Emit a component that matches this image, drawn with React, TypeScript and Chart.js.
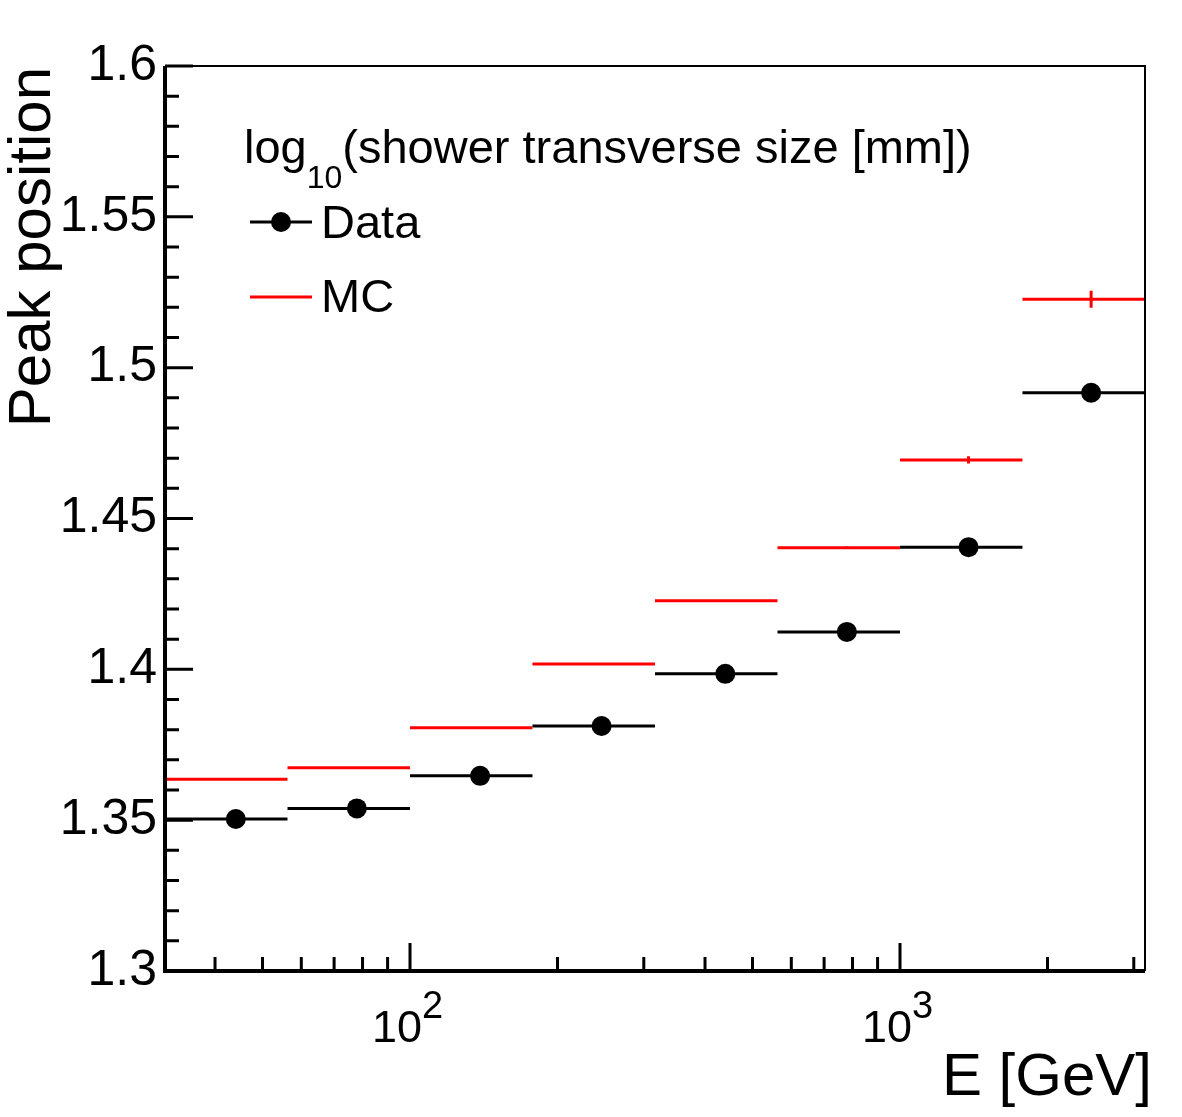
import { useEffect, useRef } from 'react';
import { Chart, registerables } from 'chart.js';

Chart.register(...registerables);

const FONT = '"Liberation Sans", Arial, Helvetica, sans-serif';

// Energy bins in GeV (quarter-decade wide)
const binLow = [31.62, 56.23, 100, 177.8, 316.2, 562.3, 1000, 1778];
const binHigh = [56.23, 100, 177.8, 316.2, 562.3, 1000, 1778, 3162.3];
// Mean energy of each bin, where the markers sit
const binEnergy = [44.1, 77.9, 139, 246, 440, 779, 1380, 2455];

// Peak position of log10(shower transverse size [mm])
const dataPeak = [1.3504, 1.3539, 1.3647, 1.3812, 1.3985, 1.4124, 1.4405, 1.4917];
const mcPeak = [1.3636, 1.3674, 1.3806, 1.4018, 1.4227, 1.4403, 1.4694, 1.5227];
const mcErr = [0.0002, 0.0002, 0.0002, 0.0003, 0.0003, 0.0004, 0.0012, 0.0028];

// Axis ranges and ticks
const xMin = 31.62;
const xMax = 3162.3;
const yMin = 1.3;
const yMax = 1.6;
const yMajorTicks = [1.3, 1.35, 1.4, 1.45, 1.5, 1.55, 1.6];
const yTickLabels = ['1.3', '1.35', '1.4', '1.45', '1.5', '1.55', '1.6'];
const yMinorTicks = [
  1.31, 1.32, 1.33, 1.34, 1.36, 1.37, 1.38, 1.39, 1.41, 1.42, 1.43, 1.44,
  1.46, 1.47, 1.48, 1.49, 1.51, 1.52, 1.53, 1.54, 1.56, 1.57, 1.58, 1.59,
];
const xMajorTicks = [100, 1000];
const xTickBase = ['10', '10'];
const xTickExponent = ['2', '3'];
const xMinorTicks = [40, 50, 60, 70, 80, 90, 200, 300, 400, 500, 600, 700, 800, 900, 2000, 3000];

const xTitle = 'E [GeV]';
const yTitle = 'Peak position';
const legendHeader = ['log', '10', '(shower transverse size [mm])'];
const legendData = 'Data';
const legendMC = 'MC';

type Pt = { x: number; y: number | null };

function binSegments(lo: number[], hi: number[], ys: number[]): Pt[] {
  const pts: Pt[] = [];
  for (let i = 0; i < ys.length; i++) {
    pts.push({ x: lo[i], y: ys[i] }, { x: hi[i], y: ys[i] }, { x: hi[i], y: null });
  }
  return pts;
}

function errorSegments(xs: number[], ys: number[], err: number[]): Pt[] {
  const pts: Pt[] = [];
  for (let i = 0; i < ys.length; i++) {
    pts.push({ x: xs[i], y: ys[i] - err[i] }, { x: xs[i], y: ys[i] + err[i] }, { x: xs[i], y: null });
  }
  return pts;
}

const frameDecor = {
  id: 'frameDecor',
  afterDraw(chart: any) {
    const { ctx, chartArea: a, scales } = chart;
    const x = scales.x;
    const y = scales.y;
    ctx.save();
    ctx.strokeStyle = '#000';
    ctx.fillStyle = '#000';

    // thin top / right frame
    ctx.lineWidth = 2;
    ctx.beginPath();
    ctx.moveTo(a.left, a.top);
    ctx.lineTo(a.right, a.top);
    ctx.lineTo(a.right, a.bottom);
    ctx.stroke();

    // tick marks (inside the frame)
    ctx.lineWidth = 3;
    ctx.beginPath();
    for (const v of yMajorTicks) {
      const p = y.getPixelForValue(v);
      ctx.moveTo(a.left, p);
      ctx.lineTo(a.left + 28, p);
    }
    for (const v of yMinorTicks) {
      const p = y.getPixelForValue(v);
      ctx.moveTo(a.left, p);
      ctx.lineTo(a.left + 14, p);
    }
    for (const v of xMajorTicks) {
      const p = x.getPixelForValue(v);
      ctx.moveTo(p, a.bottom);
      ctx.lineTo(p, a.bottom - 28);
    }
    for (const v of xMinorTicks) {
      const p = x.getPixelForValue(v);
      ctx.moveTo(p, a.bottom);
      ctx.lineTo(p, a.bottom - 14);
    }
    ctx.stroke();

    // thick axis lines
    ctx.lineWidth = 4;
    ctx.beginPath();
    ctx.moveTo(a.left, a.top);
    ctx.lineTo(a.left, a.bottom);
    ctx.lineTo(a.right, a.bottom);
    ctx.stroke();

    // x tick labels: 10^n
    ctx.textBaseline = 'alphabetic';
    xMajorTicks.forEach((v, i) => {
      const p = x.getPixelForValue(v);
      ctx.font = `45px ${FONT}`;
      ctx.textAlign = 'right';
      ctx.fillText(xTickBase[i], p + 12, a.bottom + 71);
      ctx.font = `38px ${FONT}`;
      ctx.textAlign = 'left';
      ctx.fillText(xTickExponent[i], p + 12, a.bottom + 47);
    });

    // axis titles
    ctx.font = `60px ${FONT}`;
    ctx.textAlign = 'right';
    ctx.fillText(xTitle, a.right + 7, a.bottom + 124);

    ctx.save();
    ctx.translate(50, a.top + 1);
    ctx.rotate(-Math.PI / 2);
    ctx.textAlign = 'right';
    ctx.fillText(yTitle, 0, 0);
    ctx.restore();

    // legend
    ctx.textAlign = 'left';
    ctx.font = `47px ${FONT}`;
    let tx = 244;
    ctx.fillText(legendHeader[0], tx, 163);
    tx += ctx.measureText(legendHeader[0]).width;
    ctx.font = `32px ${FONT}`;
    ctx.fillText(legendHeader[1], tx, 188);
    tx += ctx.measureText(legendHeader[1]).width;
    ctx.font = `47px ${FONT}`;
    ctx.fillText(legendHeader[2], tx, 163);

    ctx.lineWidth = 3;
    ctx.strokeStyle = '#000';
    ctx.beginPath();
    ctx.moveTo(250, 222);
    ctx.lineTo(312, 222);
    ctx.stroke();
    ctx.beginPath();
    ctx.arc(281, 222, 10, 0, Math.PI * 2);
    ctx.fill();
    ctx.fillText(legendData, 321, 238);

    ctx.strokeStyle = '#ff0000';
    ctx.beginPath();
    ctx.moveTo(250, 297);
    ctx.lineTo(312, 297);
    ctx.stroke();
    ctx.fillStyle = '#000';
    ctx.fillText(legendMC, 321, 312);

    ctx.restore();
  },
};

export default function App() {
  const canvasRef = useRef<HTMLCanvasElement | null>(null);

  useEffect(() => {
    const canvas = canvasRef.current;
    if (!canvas) return;
    const chart = new Chart(canvas, {
      type: 'line',
      data: {
        datasets: [
          {
            type: 'scatter',
            label: 'Data markers',
            data: binEnergy.map((e, i) => ({ x: e, y: dataPeak[i] })),
            pointRadius: 10,
            pointBackgroundColor: '#000',
            pointBorderWidth: 0,
            showLine: false,
          } as any,
          {
            label: 'Data bins',
            data: binSegments(binLow, binHigh, dataPeak),
            borderColor: '#000',
            borderWidth: 3,
            pointRadius: 0,
            spanGaps: false,
            fill: false,
          },
          {
            label: 'MC error',
            data: errorSegments(binEnergy, mcPeak, mcErr),
            borderColor: '#ff0000',
            borderWidth: 3,
            pointRadius: 0,
            spanGaps: false,
            fill: false,
          },
          {
            label: 'MC bins',
            data: binSegments(binLow, binHigh, mcPeak),
            borderColor: '#ff0000',
            borderWidth: 3,
            pointRadius: 0,
            spanGaps: false,
            fill: false,
          },
        ],
      },
      options: {
        responsive: false,
        animation: false,
        devicePixelRatio: 1,
        events: [],
        layout: { padding: { top: 66, right: 37, left: 0, bottom: 0 } },
        plugins: {
          legend: { display: false },
          tooltip: { enabled: false },
        },
        scales: {
          x: {
            type: 'logarithmic',
            min: xMin,
            max: xMax,
            grid: { display: false, drawTicks: false },
            border: { display: false },
            ticks: { display: false },
            afterFit: (s: any) => {
              s.height = 146;
            },
          },
          y: {
            type: 'linear',
            min: yMin,
            max: yMax,
            grid: { display: false, drawTicks: false },
            border: { display: false },
            afterBuildTicks: (s: any) => {
              s.ticks = yMajorTicks.map((v) => ({ value: v }));
            },
            ticks: {
              autoSkip: false,
              color: '#000',
              padding: 8,
              font: { family: FONT, size: 50 },
              callback: (_v: any, i: number) => yTickLabels[i],
            },
            afterFit: (s: any) => {
              s.width = 165;
            },
          },
        },
      },
      plugins: [frameDecor],
    });
    return () => chart.destroy();
  }, []);

  return (
    <div style={{ position: 'absolute', left: 0, top: 0, width: 1182, height: 1117, background: '#fff' }}>
      <canvas ref={canvasRef} width={1182} height={1117} style={{ display: 'block', width: 1182, height: 1117 }} />
    </div>
  );
}
